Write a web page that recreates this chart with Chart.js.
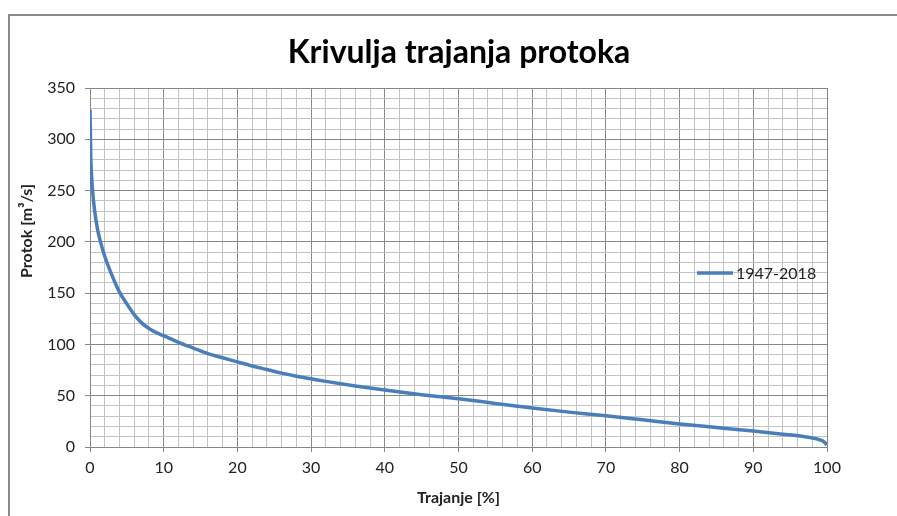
<!DOCTYPE html>
<html>
<head>
<meta charset="utf-8">
<title>Krivulja trajanja protoka</title>
<script src="https://cdn.jsdelivr.net/npm/chart.js@4.4.0/dist/chart.umd.min.js"></script>
<style>
    html, body { margin: 0; padding: 0; background: #fff; overflow: hidden; }
    #frame { position: absolute; left: 8px; top: 14px; width: 1000px; height: 600px;
             border-left: 2px solid #8a8a8a; border-top: 2px solid #8a8a8a; }
    #chart { position: absolute; left: 0; top: 0; }
</style>
</head>
<body>
<div id="frame"></div>
<canvas id="chart" width="897" height="516"></canvas>
<script>

// Data
const trajanje = [0, 0.1, 0.2, 0.35, 0.6, 1, 1.5, 2, 3, 4, 5, 6, 7, 8, 9, 10, 12, 14, 16, 18, 20, 22, 24, 26, 28, 30, 32, 36, 40, 45, 50, 55, 60, 65, 70, 75, 80, 85, 90, 94, 97, 99, 99.6, 100];
const protok   = [329, 283, 266, 250, 232, 213, 198, 186, 167, 151, 139.5, 129, 121, 115.5, 111.5, 108.5, 102, 96.5, 91, 87, 83, 79, 75.5, 72, 69, 66.5, 64, 59.5, 55.5, 51, 47, 42.5, 38, 34, 30.5, 26.5, 22.5, 19, 15.5, 12.5, 10, 7, 5, 2];
const seriesLabel = '1947-2018';

// Texts
const chartTitle = 'Krivulja trajanja protoka';
const xTitle = 'Trajanje [%]';
const yTitle = 'Protok [m\u00B3/s]';

// Colors
const lineColor = '#4a7ebb';
const majorGrid = '#888888';
const minorGrid = '#c2c2c2';
const textColor = '#222222';
const fontFamily = 'Lato, "Open Sans", sans-serif';

const points = trajanje.map(function(x, i) { return { x: x, y: protok[i] }; });

// Title, y title and legend drawn on the canvas
const extraText = {
    id: 'extraText',
    afterDraw: function(chart) {
        const ctx = chart.ctx;
        const area = chart.chartArea;
        ctx.save();
        ctx.fillStyle = '#000';
        ctx.font = 'bold 32px ' + fontFamily;
        ctx.textAlign = 'center';
        ctx.textBaseline = 'middle';
        ctx.fillText(chartTitle, 459, 53);

        ctx.translate(27, 231);
        ctx.rotate(-Math.PI / 2);
        ctx.font = 'bold 16px ' + fontFamily;
        ctx.fillStyle = textColor;
        ctx.fillText(yTitle, 0, 0);
        ctx.restore();

        // Legend
        ctx.save();
        const lx = area.right - 130;
        const ly = area.top + 185;
        ctx.strokeStyle = lineColor;
        ctx.lineWidth = 3.5;
        ctx.beginPath();
        ctx.moveTo(lx, ly);
        ctx.lineTo(lx + 36, ly);
        ctx.stroke();
        ctx.fillStyle = textColor;
        ctx.font = '16px ' + fontFamily;
        ctx.textAlign = 'left';
        ctx.textBaseline = 'middle';
        ctx.fillText(seriesLabel, lx + 39, ly + 1);
        ctx.restore();
    }
};

const ctx = document.getElementById('chart').getContext('2d');
const myChart = new Chart(ctx, {
    type: 'line',
    data: {
        datasets: [
            {
                label: seriesLabel,
                data: points,
                borderColor: lineColor,
                backgroundColor: lineColor,
                borderWidth: 3.5,
                pointRadius: 0,
                fill: false,
                cubicInterpolationMode: 'monotone'
            }
        ]
    },
    options: {
        responsive: false,
        animation: false,
        devicePixelRatio: 1,
        layout: {
            padding: { left: 0, top: 88, right: 70, bottom: 0 }
        },
        plugins: {
            legend: { display: false },
            title: { display: false },
            tooltip: { enabled: false }
        },
        scales: {
            x: {
                type: 'linear',
                min: 0,
                max: 100,
                afterFit: function(scale) { scale.height = 69; },
                border: { color: majorGrid },
                grid: {
                    color: function(c) { return c.tick && c.tick.value % 10 === 0 ? majorGrid : minorGrid; },
                    tickColor: function(c) { return c.tick && c.tick.value % 10 === 0 ? majorGrid : 'rgba(0,0,0,0)'; },
                    tickLength: 5
                },
                ticks: {
                    stepSize: 2,
                    autoSkip: false,
                    maxRotation: 0,
                    padding: 6,
                    color: textColor,
                    font: { family: fontFamily, size: 16 },
                    callback: function(v) { return v % 10 === 0 ? v : ''; }
                },
                title: {
                    display: true,
                    text: xTitle,
                    color: textColor,
                    font: { family: fontFamily, size: 16, weight: 'bold' },
                    padding: { top: 0, bottom: 9 }
                }
            },
            y: {
                min: 0,
                max: 350,
                afterFit: function(scale) { scale.width = 90; },
                border: { color: majorGrid },
                grid: {
                    color: function(c) { return c.tick && c.tick.value % 50 === 0 ? majorGrid : minorGrid; },
                    tickColor: function(c) { return c.tick && c.tick.value % 50 === 0 ? majorGrid : 'rgba(0,0,0,0)'; },
                    tickLength: 5
                },
                ticks: {
                    stepSize: 10,
                    autoSkip: false,
                    padding: 10,
                    color: textColor,
                    font: { family: fontFamily, size: 16 },
                    callback: function(v) { return v % 50 === 0 ? v : ''; }
                }
            }
        }
    },
    plugins: [extraText]
});
</script>
</body>
</html>
